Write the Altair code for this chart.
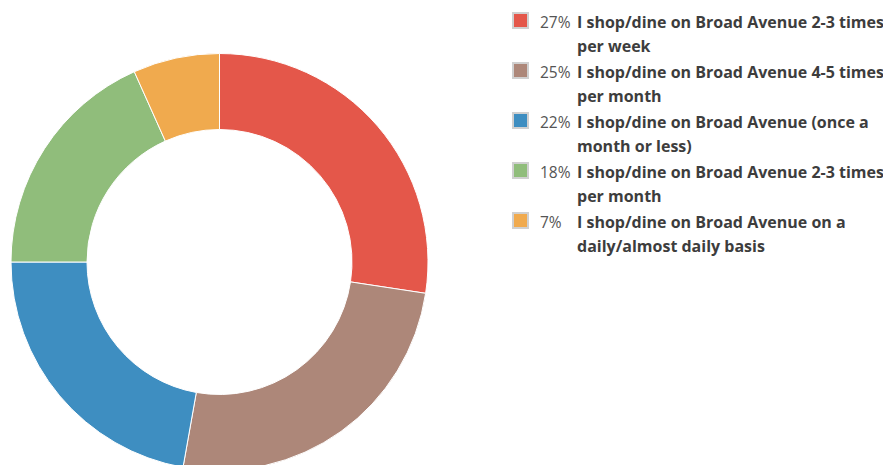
import altair as alt
import pandas as pd

labels = [
    "I shop/dine on Broad Avenue 2-3 times\nper week",
    "I shop/dine on Broad Avenue 4-5 times\nper month",
    "I shop/dine on Broad Avenue (once a\nmonth or less)",
    "I shop/dine on Broad Avenue 2-3 times\nper month",
    "I shop/dine on Broad Avenue on a\ndaily/almost daily basis",
]
percent_labels = ["27%", "25%", "22%", "18%", "7%"]
values = [27.4, 25.4, 22.2, 18.3, 6.7]
colors = ["#e4574a", "#ad8779", "#3e8ec1", "#90bd7b", "#f0aa4e"]

df = pd.DataFrame({
    "idx": list(range(len(labels))),
    "label": labels,
    "pct": percent_labels,
    "value": values,
})

color_scale = alt.Scale(domain=list(range(len(labels))), range=colors)

arc = alt.Chart(df).mark_arc(
    innerRadius=132.5, outerRadius=208.5, stroke="white", strokeWidth=1
).encode(
    theta=alt.Theta("value:Q", stack=True),
    order=alt.Order("idx:O"),
    color=alt.Color("idx:O", scale=color_scale, legend=None),
    x=alt.value(211.5),
    y=alt.value(254),
)

yscale = alt.Scale(domain=[0, 4], range=[12.5, 212.5])

squares = alt.Chart(df).mark_square(
    size=225, stroke="#d0d0d0", strokeWidth=2, opacity=1
).encode(
    x=alt.value(512.5),
    y=alt.Y("idx:Q", scale=yscale, axis=None),
    color=alt.Color("idx:O", scale=color_scale, legend=None),
)

pct_text = alt.Chart(df).mark_text(
    align="left", baseline="alphabetic", font="Open Sans", fontSize=15.5,
    color="#555555", dy=7.8,
).encode(
    x=alt.value(532),
    y=alt.Y("idx:Q", scale=yscale, axis=None),
    text="pct:N",
)

label_text = alt.Chart(df).mark_text(
    align="left", baseline="alphabetic", font="Open Sans", fontSize=16,
    fontWeight="bold", color="#3d3d3d", lineBreak="\n", lineHeight=23.5, dy=7.8,
).encode(
    x=alt.value(569),
    y=alt.Y("idx:Q", scale=yscale, axis=None),
    text="label:N",
)

chart = alt.layer(arc, squares, pct_text, label_text).properties(
    width=875, height=457, padding=0, autosize="none"
).configure_view(stroke=None)

chart.save("out.html", embed_options={"renderer": "svg", "actions": False})
